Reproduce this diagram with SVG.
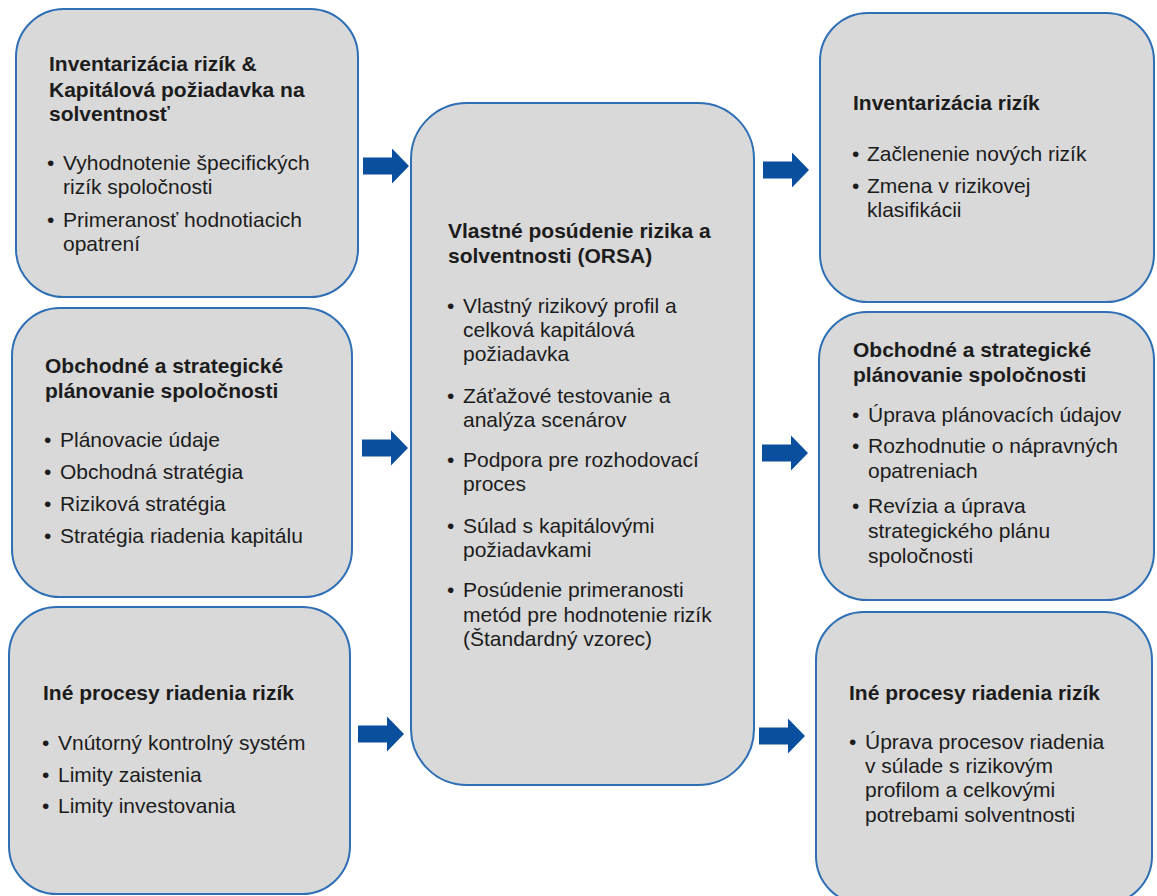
<svg xmlns="http://www.w3.org/2000/svg" width="1157" height="896" viewBox="0 0 1157 896">
<style>
.box{fill:#d9d9d9;stroke:#2e6fb5;stroke-width:2}
text{font-family:"Liberation Sans",Arial,sans-serif;font-size:21px;fill:#1c1c1c}
.t{font-weight:bold}
.arrow{fill:#0a4f9e}
</style>
<defs>
<polygon id="arr" class="arrow" points="0,-8.5 29,-8.5 29,-17.5 46,0 29,17.5 29,8.5 0,8.5"/>
</defs>
<rect width="1157" height="896" fill="#ffffff"/>

<g id="connectors">
<use href="#arr" x="363" y="166"/>
<use href="#arr" x="362" y="448"/>
<use href="#arr" x="358" y="734"/>
<use href="#arr" x="763" y="170"/>
<use href="#arr" x="762" y="453"/>
<use href="#arr" x="759" y="736"/>
</g>

<g id="n-inventarizacia-left">
<rect class="box" x="16" y="9" width="342" height="288" rx="48"/>
<text class="t"><tspan x="49" y="71">Inventarizácia rizík &amp;</tspan><tspan x="49" y="97">Kapitálová požiadavka na</tspan><tspan x="49" y="121">solventnosť</tspan></text>
<text><tspan x="47" y="170">•</tspan><tspan x="63" y="170">Vyhodnotenie špecifických</tspan><tspan x="63" y="194">rizík spoločnosti</tspan><tspan x="47" y="227">•</tspan><tspan x="63" y="227">Primeranosť hodnotiacich</tspan><tspan x="63" y="251">opatrení</tspan></text>
</g>

<g id="n-obchodne-left">
<rect class="box" x="12" y="308" width="340" height="289" rx="48"/>
<text class="t"><tspan x="45" y="373">Obchodné a strategické</tspan><tspan x="45" y="398">plánovanie spoločnosti</tspan></text>
<text><tspan x="44" y="447">•</tspan><tspan x="60" y="447">Plánovacie údaje</tspan><tspan x="44" y="479">•</tspan><tspan x="60" y="479">Obchodná stratégia</tspan><tspan x="44" y="511">•</tspan><tspan x="60" y="511">Riziková stratégia</tspan><tspan x="44" y="543">•</tspan><tspan x="60" y="543">Stratégia riadenia kapitálu</tspan></text>
</g>

<g id="n-ine-left">
<rect class="box" x="9" y="607" width="341" height="287" rx="48"/>
<text class="t" x="43" y="700">Iné procesy riadenia rizík</text>
<text><tspan x="42" y="750">•</tspan><tspan x="58" y="750">Vnútorný kontrolný systém</tspan><tspan x="42" y="782">•</tspan><tspan x="58" y="782">Limity zaistenia</tspan><tspan x="42" y="813">•</tspan><tspan x="58" y="813">Limity investovania</tspan></text>
</g>

<g id="n-orsa">
<rect class="box" x="411" y="103" width="343" height="682" rx="56"/>
<text class="t"><tspan x="448" y="238">Vlastné posúdenie rizika a</tspan><tspan x="448" y="263">solventnosti (ORSA)</tspan></text>
<text><tspan x="447" y="313">•</tspan><tspan x="463" y="313">Vlastný rizikový profil a</tspan><tspan x="463" y="337">celková kapitálová</tspan><tspan x="463" y="361">požiadavka</tspan><tspan x="447" y="403">•</tspan><tspan x="463" y="403">Záťažové testovanie a</tspan><tspan x="463" y="427">analýza scenárov</tspan><tspan x="447" y="467">•</tspan><tspan x="463" y="467">Podpora pre rozhodovací</tspan><tspan x="463" y="491">proces</tspan><tspan x="447" y="533">•</tspan><tspan x="463" y="533">Súlad s kapitálovými</tspan><tspan x="463" y="557">požiadavkami</tspan><tspan x="447" y="597">•</tspan><tspan x="463" y="597">Posúdenie primeranosti</tspan><tspan x="463" y="622">metód pre hodnotenie rizík</tspan><tspan x="463" y="646">(Štandardný vzorec)</tspan></text>
</g>

<g id="n-inventarizacia-right">
<rect class="box" x="820" y="13" width="334" height="289" rx="48"/>
<text class="t" x="853" y="110">Inventarizácia rizík</text>
<text><tspan x="852" y="161">•</tspan><tspan x="867" y="161">Začlenenie nových rizík</tspan><tspan x="852" y="193">•</tspan><tspan x="867" y="193">Zmena v rizikovej</tspan><tspan x="867" y="217">klasifikácii</tspan></text>
</g>

<g id="n-obchodne-right">
<rect class="box" x="819" y="312" width="335" height="288" rx="48"/>
<text class="t"><tspan x="853" y="357">Obchodné a strategické</tspan><tspan x="853" y="382">plánovanie spoločnosti</tspan></text>
<text><tspan x="852" y="422">•</tspan><tspan x="868" y="422">Úprava plánovacích údajov</tspan><tspan x="852" y="453">•</tspan><tspan x="868" y="453">Rozhodnutie o nápravných</tspan><tspan x="868" y="478">opatreniach</tspan><tspan x="852" y="513">•</tspan><tspan x="868" y="513">Revízia a úprava</tspan><tspan x="868" y="538">strategického plánu</tspan><tspan x="868" y="563">spoločnosti</tspan></text>
</g>

<g id="n-ine-right">
<rect class="box" x="816" y="612" width="336" height="292" rx="48"/>
<text class="t" x="849" y="700">Iné procesy riadenia rizík</text>
<text><tspan x="849" y="749">•</tspan><tspan x="865" y="749">Úprava procesov riadenia</tspan><tspan x="865" y="773">v súlade s rizikovým</tspan><tspan x="865" y="797">profilom a celkovými</tspan><tspan x="865" y="822">potrebami solventnosti</tspan></text>
</g>
</svg>
